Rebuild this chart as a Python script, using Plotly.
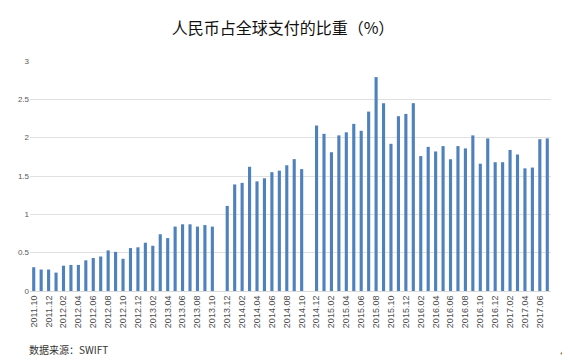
import plotly.graph_objects as go

months = []
y, m = 2011, 10
for _ in range(70):
    months.append(f"{y}.{m:02d}")
    m += 1
    if m > 12:
        m = 1
        y += 1

share = [0.31, 0.28, 0.28, 0.24, 0.33, 0.34, 0.34, 0.40, 0.43, 0.45,
         0.53, 0.51, 0.42, 0.56, 0.57, 0.63, 0.59, 0.74, 0.69, 0.84,
         0.87, 0.87, 0.84, 0.86, 0.84, None, 1.11, 1.39, 1.41, 1.62,
         1.43, 1.47, 1.55, 1.57, 1.64, 1.72, 1.59, None, 2.16, 2.05,
         1.81, 2.03, 2.07, 2.18, 2.09, 2.34, 2.79, 2.45, 1.92, 2.28,
         2.31, 2.45, 1.76, 1.88, 1.82, 1.89, 1.72, 1.89, 1.86, 2.03,
         1.66, 1.99, 1.68, 1.68, 1.84, 1.78, 1.60, 1.61, 1.98, 1.99]

tick_labels = months[::2]
y_ticks = [0, 0.5, 1, 1.5, 2, 2.5, 3]
y_tick_text = ["0", "0.5", "1", "1.5", "2", "2.5", "3"]

# The page body has an 8px margin, so positions are shifted by -8 to match the window.
OFF = 8
L, R, T, B = 30 - OFF, 570 - 551 + OFF, 61 - OFF, 360 - 291 + OFF
PW = 570 - L - R
PH = 360 - T - B

fig = go.Figure(go.Bar(x=months, y=share, marker_color="#4f81bd",
                       marker_line_width=0))

fig.update_layout(
    width=570, height=360,
    margin=dict(l=L, r=R, t=T, b=B, autoexpand=False),
    paper_bgcolor="white", plot_bgcolor="white",
    bargap=0.58,
    showlegend=False,
    title=dict(text="人民币占全球支付的比重（%）", x=(283 - OFF) / 570, xanchor="center",
               y=1 - (28 - OFF) / 360, yanchor="middle",
               font=dict(family="Noto Sans CJK SC", size=16, color="#111111")),
    font=dict(family="Liberation Sans, Arial", color="#595959"),
)
fig.update_xaxes(type="category", categoryorder="array", categoryarray=months,
                 tickmode="array", tickvals=tick_labels, ticktext=tick_labels,
                 tickangle=-90, tickfont=dict(size=9, color="#4d4d4d"),
                 showgrid=False, showline=True, linecolor="#d9d9d9", linewidth=1,
                 ticks="", ticklen=0, automargin=False)
fig.update_yaxes(range=[0, 3], tickvals=y_ticks, ticktext=y_tick_text,
                 tickfont=dict(size=8, color="#595959"),
                 showgrid=True, gridcolor="#e0e0e0", gridwidth=1,
                 zeroline=False, showline=False, ticks="", ticklen=0, automargin=False)

fig.add_annotation(text="数据来源：SWIFT", xref="paper", yref="paper",
                   x=(27 - 30) / PW, y=-(349 - 291) / PH, xanchor="left", yanchor="middle",
                   showarrow=False,
                   font=dict(family="Noto Sans CJK SC", size=10, color="#333333"))
fig.add_annotation(text="↵", xref="paper", yref="paper",
                   x=(564 - 30) / PW, y=-(353 - 291) / PH, xanchor="center", yanchor="middle",
                   showarrow=False,
                   font=dict(family="DejaVu Sans", size=9, color="#777777"))

fig.write_html("out.html")
